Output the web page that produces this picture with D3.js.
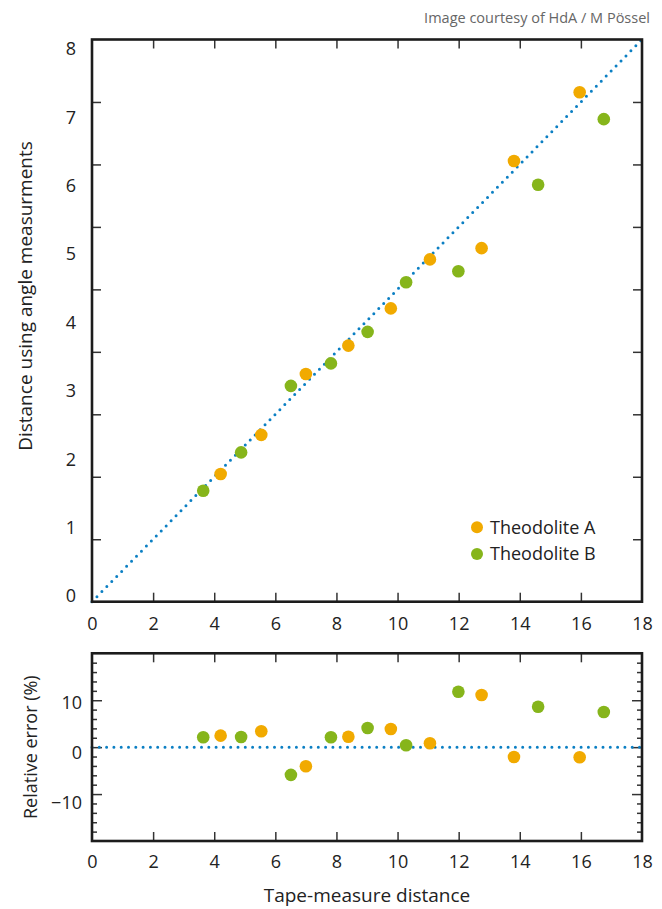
<!DOCTYPE html>
<html>
<head>
<meta charset="utf-8">
<script src="https://cdn.jsdelivr.net/npm/d3@7"></script>
<style>
  body { margin: 0; background: #fff; }
  svg text { font-family: "Open Sans", sans-serif; fill: #222; }
</style>
</head>
<body>
<div id="chart"></div>
<script>
// Data
const seriesNames = ["Theodolite A", "Theodolite B"];
const tapeA = [4.21, 5.54, 7.0, 8.39, 9.78, 11.06, 12.75, 13.81, 15.96];
const angleA = [4.09, 5.34, 7.29, 8.2, 9.39, 10.96, 11.32, 14.11, 16.31];
const errorA = [2.45, 3.38, -4.07, 2.23, 3.87, 0.83, 11.1, -2.09, -2.15];
const tapeB = [3.64, 4.88, 6.51, 7.82, 9.02, 10.28, 11.99, 14.6, 16.75];
const angleB = [3.55, 4.78, 6.91, 7.63, 8.64, 10.23, 10.58, 13.35, 15.45];
const errorB = [2.1, 2.17, -5.9, 2.1, 4.09, 0.4, 11.8, 8.6, 7.49];

const xTickLabels = [0, 2, 4, 6, 8, 10, 12, 14, 16, 18];
const yTickLabelsTop = [0, 1, 2, 3, 4, 5, 6, 7, 8];
const yTickLabelsBottom = [-10, 0, 10];

// Plot constants
const WIDTH = 662;
const HEIGHT = 909;
const LEFT = 92;
const RIGHT = 642;
const PANEL_TOP = {TOP: 39.5, BOTTOM: 601.7};
const PANEL_BOTTOM = {TOP: 653.3, BOTTOM: 841};
const COLORS = {A: "#f1aa00", B: "#86b51b", LINE: "#0b7fc3", FRAME: "#1c1c1c", TICK: "#333"};
const R = 6.3;

const svg = d3
  .select("#chart")
  .append("svg")
  .attr("width", WIDTH)
  .attr("height", HEIGHT);

// credit
svg
  .append("text")
  .attr("x", 650)
  .attr("y", 23)
  .attr("text-anchor", "end")
  .style("font-size", "14.5px")
  .style("fill", "#666")
  .text("Image courtesy of HdA / M Pössel");

const x = d3.scaleLinear().domain([0, 18]).range([LEFT, RIGHT]);

const pointsA = tapeA.map((t, i) => ({tape: t, angle: angleA[i], err: errorA[i]}));
const pointsB = tapeB.map((t, i) => ({tape: t, angle: angleB[i], err: errorB[i]}));

function drawFrame(g, top, bottom) {
  g.append("rect")
    .attr("x", LEFT)
    .attr("y", top)
    .attr("width", RIGHT - LEFT)
    .attr("height", bottom - top)
    .attr("fill", "none")
    .attr("stroke", COLORS.FRAME)
    .attr("stroke-width", 2.6);
}

function styleTicks(sel) {
  sel.select(".domain").remove();
  sel.selectAll("line").attr("stroke", COLORS.TICK).attr("stroke-width", 1.5);
}

function xAxes(g, top, bottom, labelPad) {
  const inner = d3.range(2, 18, 2);
  g.append("g")
    .attr("transform", "translate(0," + bottom + ")")
    .call(d3.axisBottom(x).tickValues(inner).tickSize(-9).tickFormat(""))
    .call(styleTicks);
  g.append("g")
    .attr("transform", "translate(0," + top + ")")
    .call(d3.axisTop(x).tickValues(inner).tickSize(-9).tickFormat(""))
    .call(styleTicks);
  const lab = g
    .append("g")
    .attr("transform", "translate(0," + bottom + ")")
    .call(d3.axisBottom(x).tickValues(xTickLabels).tickSize(0).tickPadding(labelPad));
  lab.select(".domain").remove();
  lab.selectAll("text").style("font-size", "18px").style("fill", "#222");
}

function drawPoints(g, data, color, yAcc) {
  g.append("g")
    .selectAll("circle")
    .data(data)
    .join("circle")
    .attr("cx", (d) => x(d.tape))
    .attr("cy", yAcc)
    .attr("r", R)
    .attr("fill", color);
}

// ---- Top panel ----
const gTop = svg.append("g");
const yTop = d3.scaleLinear().domain([0, 18]).range([PANEL_TOP.BOTTOM, PANEL_TOP.TOP]);
const yTopLabels = d3.scaleLinear().domain([0, 8]).range([596, 49]);

const yTicksTop = d3.range(2, 18, 2);
gTop.append("g")
  .attr("transform", "translate(" + LEFT + ",0)")
  .call(d3.axisLeft(yTop).tickValues(yTicksTop).tickSize(-9).tickFormat(""))
  .call(styleTicks);
gTop.append("g")
  .attr("transform", "translate(" + RIGHT + ",0)")
  .call(d3.axisRight(yTop).tickValues(yTicksTop).tickSize(-9).tickFormat(""))
  .call(styleTicks);
const yLabTop = gTop
  .append("g")
  .attr("transform", "translate(" + LEFT + ",0)")
  .call(d3.axisLeft(yTopLabels).tickValues(yTickLabelsTop).tickSize(0).tickPadding(16));
yLabTop.select(".domain").remove();
yLabTop.selectAll("text").style("font-size", "18px").style("fill", "#222");

xAxes(gTop, PANEL_TOP.TOP, PANEL_TOP.BOTTOM, 15.5);

// dotted 1:1 line
gTop.append("path")
  .datum([0, 18])
  .attr("d", d3.line().x((d) => x(d)).y((d) => yTop(d)))
  .attr("fill", "none")
  .attr("stroke", COLORS.LINE)
  .attr("stroke-width", 3)
  .attr("stroke-linecap", "round")
  .attr("stroke-dasharray", "0,7.07");

drawFrame(gTop, PANEL_TOP.TOP, PANEL_TOP.BOTTOM);
drawPoints(gTop, pointsB, COLORS.B, (d) => yTop(d.angle));
drawPoints(gTop, pointsA, COLORS.A, (d) => yTop(d.angle));

gTop.append("text")
  .attr("transform", "translate(32,296) rotate(-90)")
  .attr("text-anchor", "middle")
  .style("font-size", "19px")
  .text("Distance using angle measurments");

// legend
const legend = gTop
  .append("g")
  .selectAll("g")
  .data(seriesNames)
  .join("g")
  .attr("transform", (d, i) => "translate(477," + (527.3 + i * 26.7) + ")");
legend.append("circle").attr("r", 6).attr("fill", (d, i) => (i === 0 ? COLORS.A : COLORS.B));
legend.append("text")
  .attr("x", 13)
  .attr("dy", "0.35em")
  .style("font-size", "18px")
  .text((d) => d);

// ---- Bottom panel ----
const gBot = svg.append("g");
const yBot = d3.scaleLinear().domain([-20, 20]).range([PANEL_BOTTOM.BOTTOM, PANEL_BOTTOM.TOP]);
const yBotLabels = d3.scaleLinear().domain([-10, 10]).range([803, 703]);

const minor = d3.range(-18, 19, 2).filter((v) => v % 10 !== 0);
const major = [-10, 0, 10];
[[LEFT, d3.axisLeft], [RIGHT, d3.axisRight]].forEach(([px, axis]) => {
  gBot.append("g")
    .attr("transform", "translate(" + px + ",0)")
    .call(axis(yBot).tickValues(minor).tickSize(-5).tickFormat(""))
    .call(styleTicks);
  gBot.append("g")
    .attr("transform", "translate(" + px + ",0)")
    .call(axis(yBot).tickValues(major).tickSize(-10).tickFormat(""))
    .call(styleTicks);
});
const yLabBot = gBot
  .append("g")
  .attr("transform", "translate(" + LEFT + ",0)")
  .call(d3.axisLeft(yBotLabels).tickValues(yTickLabelsBottom).tickSize(0).tickPadding(10));
yLabBot.select(".domain").remove();
yLabBot.selectAll("text").style("font-size", "18px").style("fill", "#222");

xAxes(gBot, PANEL_BOTTOM.TOP, PANEL_BOTTOM.BOTTOM, 14);

gBot.append("path")
  .datum([0, 18])
  .attr("d", d3.line().x((d) => x(d)).y(() => yBot(0)))
  .attr("fill", "none")
  .attr("stroke", COLORS.LINE)
  .attr("stroke-width", 3)
  .attr("stroke-linecap", "round")
  .attr("stroke-dasharray", "0,7.3");

drawFrame(gBot, PANEL_BOTTOM.TOP, PANEL_BOTTOM.BOTTOM);
drawPoints(gBot, pointsB, COLORS.B, (d) => yBot(d.err));
drawPoints(gBot, pointsA, COLORS.A, (d) => yBot(d.err));

gBot.append("text")
  .attr("transform", "translate(37," + (PANEL_BOTTOM.TOP + PANEL_BOTTOM.BOTTOM) / 2 + ") rotate(-90)")
  .attr("text-anchor", "middle")
  .style("font-size", "18px")
  .text("Relative error (%)");

svg.append("text")
  .attr("x", (LEFT + RIGHT) / 2)
  .attr("y", 902)
  .attr("text-anchor", "middle")
  .style("font-size", "19px")
  .text("Tape-measure distance");
</script>
</body>
</html>
